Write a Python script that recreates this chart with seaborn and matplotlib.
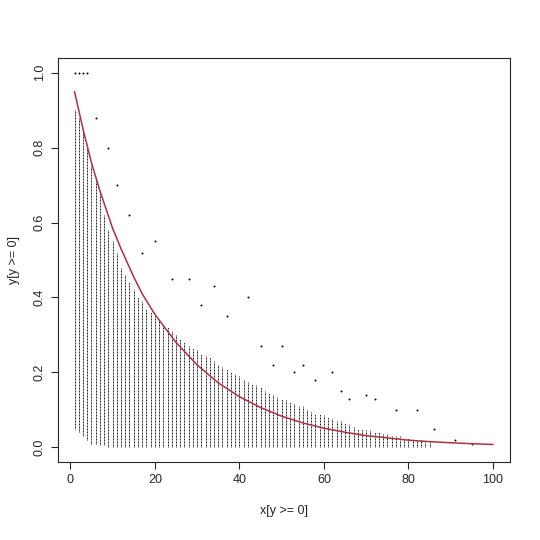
import numpy as np
import matplotlib
matplotlib.use("Agg")
import matplotlib.pyplot as plt
import seaborn as sns

# dense column envelope per integer x
col_x = list(range(1, 86))
col_max = [0.9, 0.88, 0.85, 0.8, 0.75, 0.72, 0.68, 0.62, 0.58, 0.55,
           0.52, 0.48, 0.46, 0.44, 0.42, 0.40, 0.39, 0.37, 0.36, 0.35,
           0.34, 0.33, 0.32, 0.31, 0.30, 0.29, 0.28, 0.27, 0.265, 0.26,
           0.25, 0.245, 0.24, 0.23, 0.22, 0.215, 0.21, 0.20, 0.195, 0.19,
           0.18, 0.175, 0.17, 0.165, 0.16, 0.15, 0.145, 0.14, 0.135, 0.13,
           0.125, 0.12, 0.115, 0.11, 0.11, 0.10, 0.095, 0.09, 0.09, 0.085,
           0.08, 0.075, 0.07, 0.07, 0.065, 0.06, 0.055, 0.05, 0.05, 0.045,
           0.045, 0.04, 0.04, 0.035, 0.035, 0.03, 0.03, 0.03, 0.025, 0.025,
           0.02, 0.02, 0.02, 0.015, 0.015]
col_min = [0.05, 0.04, 0.03, 0.02, 0.01, 0.01, 0.005, 0.005] + [0.0] * 77

# scattered points above the dense envelope
pt_x = [1, 2, 3, 4, 6, 9, 11, 14, 17, 20, 24, 28, 31, 34, 37, 42, 45, 48, 50, 53, 55, 58, 62, 64, 66, 70, 72, 77, 82, 86, 91, 95]
pt_y = [1.0, 1.0, 1.0, 1.0, 0.88, 0.8, 0.7, 0.62, 0.52, 0.55, 0.45, 0.45, 0.38, 0.43, 0.35, 0.40, 0.27, 0.22, 0.27, 0.2, 0.22, 0.18, 0.2, 0.15, 0.13, 0.14, 0.13, 0.1, 0.1, 0.05, 0.02, 0.01]

# fitted red curve
fit_x = [1, 3, 5, 7, 10, 12, 15, 17, 20, 25, 30, 35, 40, 45, 50, 55, 60, 65, 70, 75, 80, 85, 90, 95, 100]
fit_y = [0.95, 0.85, 0.76, 0.685, 0.585, 0.53, 0.455, 0.41, 0.355, 0.28, 0.22, 0.172, 0.135, 0.106, 0.083, 0.065, 0.051, 0.040, 0.031, 0.025, 0.019, 0.015, 0.012, 0.0095, 0.0075]

sns.set_style("ticks")
plt.rcParams['font.family'] = ['Liberation Sans', 'DejaVu Sans']
fig = plt.figure(figsize=(5.4, 5.4), dpi=100)
ax = fig.add_axes([0.107, 0.144, 0.837, 0.749])

ax.vlines(col_x, col_min, col_max, colors="black", linewidth=0.6, linestyles=(0, (1.2, 0.6)))
sns.scatterplot(x=pt_x, y=pt_y, ax=ax, color="black", s=2, linewidth=0)
sns.lineplot(x=fit_x, y=fit_y, ax=ax, color="#b03040", linewidth=1.1)

ax.set_xlim(-2.96, 103.96)
ax.set_ylim(-0.04, 1.04)
ax.set_xticks([0, 20, 40, 60, 80, 100])
ax.set_yticks([0.0, 0.2, 0.4, 0.6, 0.8, 1.0])
ax.set_yticklabels(["0.0", "0.2", "0.4", "0.6", "0.8", "1.0"], rotation=90, va="center")
ax.tick_params(labelsize=9, direction="out", length=5, width=0.8)
for s in ax.spines.values():
    s.set_visible(True)
    s.set_linewidth(0.8)
ax.set_xlabel("x[y >= 0]", fontsize=9, labelpad=14)
ax.set_ylabel("y[y >= 0]", fontsize=9, labelpad=10)
fig.savefig("out.png", dpi=100)
